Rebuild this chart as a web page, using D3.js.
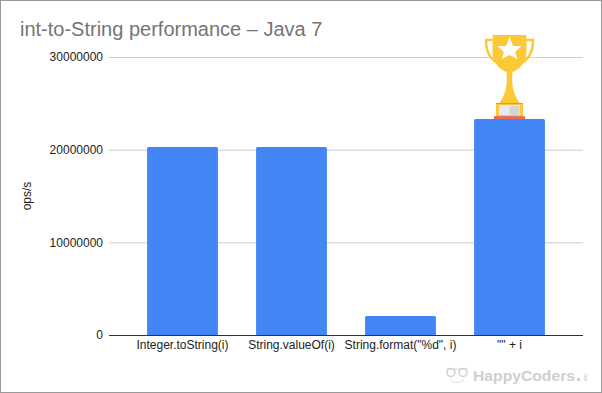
<!DOCTYPE html>
<html>
<head>
<meta charset="utf-8">
<script src="https://cdn.jsdelivr.net/npm/d3@7"></script>
<style>
html, body { margin: 0; padding: 0; background: #fff; }
svg { display: block; }
text { font-family: "Liberation Sans", Arial, sans-serif; }
</style>
</head>
<body>
<div id="chart"></div>
<script>
var categories = ["Integer.toString(i)", "String.valueOf(i)", 'String.format("%d", i)', '"" + i'];
var opsPerSecond = [20300000, 20300000, 2050000, 23300000];
var yTicks = [0, 10000000, 20000000, 30000000];

var width = 602, height = 393;
var labelFont = '"Liberation Sans", Arial, sans-serif';
var svg = d3.select("#chart").append("svg").attr("width", width).attr("height", height);

// outer frame
svg.append("rect").attr("x", 0.5).attr("y", 0.5).attr("width", width - 1).attr("height", height - 1)
	.attr("fill", "#fff").attr("stroke", "#999");

var x = d3.scaleBand().domain(categories).range([128, 564]).paddingInner(0.35).paddingOuter(0.175);
var y = d3.scaleLinear().domain([0, 30000000]).range([335, 57]);

svg.append("text").attr("x", 20).attr("y", 36)
	.attr("font-size", 20).attr("fill", "#757575")
	.text("int-to-String performance – Java 7");

// grid lines and y labels
var yAxis = d3.axisLeft(y).tickValues(yTicks).tickFormat(d3.format("d")).tickSize(-474).tickPadding(6);
var gy = svg.append("g").attr("transform", "translate(109,0)").call(yAxis);
gy.select(".domain").remove();
gy.selectAll(".tick line").attr("stroke", "#ccc");
gy.selectAll(".tick text").attr("font-family", labelFont).attr("font-size", 12).attr("fill", "#222");

svg.append("text").attr("transform", "translate(31,196) rotate(-90)")
	.attr("text-anchor", "middle").attr("font-size", 12).attr("fill", "#222").text("ops/s");

svg.selectAll(".bar").data(categories).enter().append("path")
	.attr("class", "bar")
	.attr("fill", "#4285f4")
	.attr("d", function (d, i) {
		var x0 = x(d), w = x.bandwidth(), t = y(opsPerSecond[i]), b = y(0), r = 1.5;
		return "M" + x0 + "," + b + "V" + (t + r) + "Q" + x0 + "," + t + " " + (x0 + r) + "," + t +
			"H" + (x0 + w - r) + "Q" + (x0 + w) + "," + t + " " + (x0 + w) + "," + (t + r) + "V" + b + "Z";
	});

// baseline
svg.append("line").attr("x1", 109).attr("x2", 583).attr("y1", 335.5).attr("y2", 335.5).attr("stroke", "#333");

var xAxis = d3.axisBottom(x).tickSize(0).tickPadding(5);
var gx = svg.append("g").attr("transform", "translate(0,335)").call(xAxis);
gx.select(".domain").remove();
gx.selectAll(".tick text").attr("font-family", labelFont).attr("font-size", 12).attr("fill", "#222");

// trophy over the winning bar
var best = d3.max(opsPerSecond);
var trophy = svg.append("g").attr("transform",
	"translate(" + (x(categories[opsPerSecond.indexOf(best)]) + x.bandwidth() / 2) + "," + y(best) + ")");
trophy.append("path").attr("fill", "none").attr("stroke", "#fcc934").attr("stroke-width", 2.5)
	.attr("d", "M-17,-79 H-23.5 C-23.5,-65 -18,-58 -9,-55 M17,-79 H23.5 C23.5,-65 18,-58 9,-55");
trophy.append("path").attr("fill", "#fcc934")
	.attr("d", "M-17,-84 H17 V-68 C17,-56 9,-49 3,-47 C2,-36 3,-26 10,-16 H-10 C-3,-26 -2,-36 -3,-47 C-9,-49 -17,-56 -17,-68 Z");
trophy.append("path").attr("fill", "#fff")
	.attr("d", "M0,-82 L3.5,-73 L12,-73 L5.5,-67 L8,-60 L0,-64 L-8,-60 L-5.5,-67 L-12,-73 L-3.5,-73 Z");
trophy.append("rect").attr("x", -13.5).attr("y", -16).attr("width", 27).attr("height", 14).attr("fill", "#fcc934");
trophy.append("rect").attr("x", -10.5).attr("y", -14).attr("width", 21).attr("height", 10).attr("fill", "#e8eaed");
trophy.append("rect").attr("x", 0).attr("y", -13).attr("width", 10).attr("height", 9).attr("fill", "#d2d4d6");
trophy.append("rect").attr("x", -13.5).attr("y", -16).attr("width", 27).attr("height", 1).attr("fill", "#ea8a5a");
trophy.append("rect").attr("x", -15.5).attr("y", -3).attr("width", 31).attr("height", 3).attr("fill", "#ea6b5e");

// watermark
var mark = svg.append("g");
mark.append("text").attr("x", 473).attr("y", 381)
	.attr("font-family", "DejaVu Sans, sans-serif").attr("font-weight", "bold")
	.attr("font-size", 15).attr("fill", "#cfcfcf")
	.attr("textLength", 102).attr("lengthAdjust", "spacingAndGlyphs").text("HappyCoders");
mark.append("rect").attr("x", 577).attr("y", 378).attr("width", 3).attr("height", 3).attr("fill", "#cfcfcf");
mark.append("text").attr("transform", "translate(587,381) rotate(-90)")
	.attr("font-weight", "bold").attr("font-size", 6).attr("fill", "#cfcfcf").text("eu");
mark.selectAll("circle").data([451, 463]).enter().append("circle")
	.attr("cx", function (d) { return d; }).attr("cy", 372.5).attr("r", 4)
	.attr("fill", "none").attr("stroke", "#d0d0d0").attr("stroke-width", 1.5);
mark.append("path").attr("fill", "none").attr("stroke", "#d0d0d0")
	.attr("d", "M446,369 H468");
mark.append("path").attr("fill", "none").attr("stroke", "#e0e0e0")
	.attr("d", "M450,380 Q457,385 464,380");
</script>
</body>
</html>
